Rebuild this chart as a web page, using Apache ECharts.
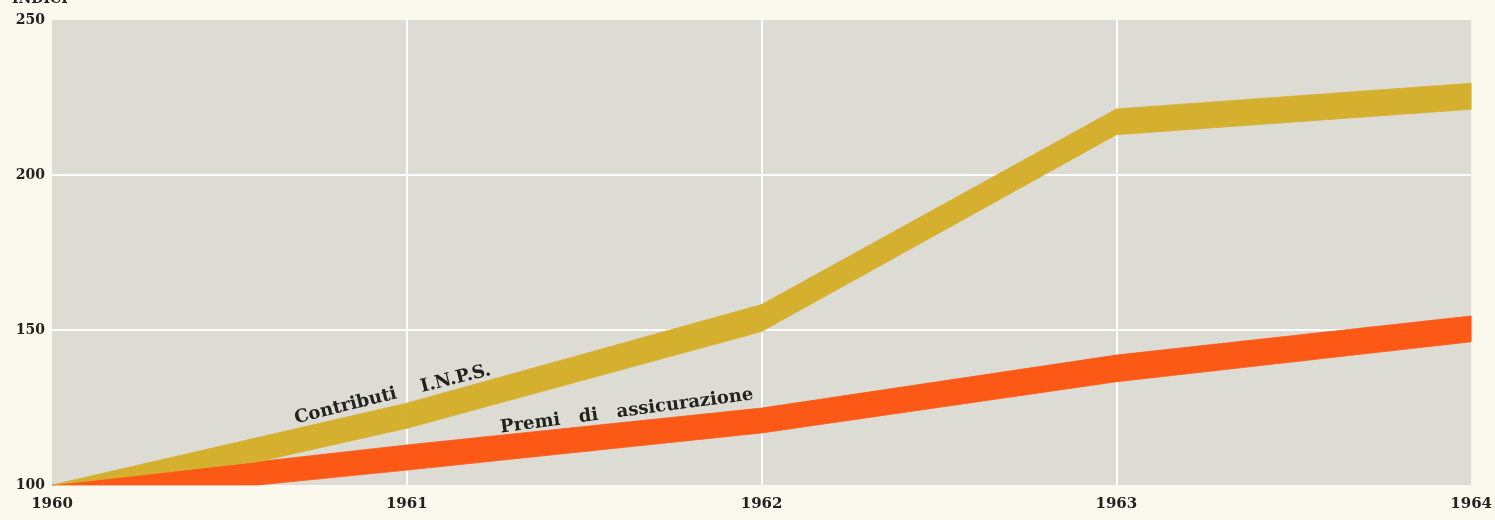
<!DOCTYPE html>
<html>
<head>
<meta charset="utf-8">
<script src="https://cdn.jsdelivr.net/npm/echarts@6/dist/echarts.min.js"></script>
<style>
  html, body { margin: 0; padding: 0; background: #fbf8ee; }
  #chart { width: 1495px; height: 520px; }
</style>
</head>
<body>
<div id="chart"></div>
<script>
// anni (1960.58 = punto dove la banda rossa comincia a salire)
const years = [1960, 1960.58, 1961, 1962, 1963, 1964];
const yTicks = [100, 150, 200, 250];
const xTicks = [1960, 1961, 1962, 1963, 1964];

// bordi inferiore / superiore delle bande
const inpsLow  = [100, 107.5, 118.3, 149.5, 213.0, 221.2];
const inpsHigh = [100, 115.3, 126.4, 158.2, 221.3, 229.6];
const premiLow  = [100, 100.0, 104.8, 116.8, 133.3, 146.2];
const premiHigh = [100, 107.5, 112.9, 124.8, 141.9, 154.5];

// dove stanno le scritte (coordinate dati)
const inpsLabelAt = [1960.96, 129.2];
const premiLabelAt = [1961.62, 123.8];

const serif = '"DejaVu Serif", "Liberation Serif", serif';
const ink = '#24221e';

// un pezzo di banda per ogni tratto fra due anni
const segments = (lo, hi) => {
    const out = [];
    for (let i = 0; i < years.length - 1; i++) {
        out.push([years[i], lo[i], hi[i], years[i + 1], lo[i + 1], hi[i + 1]]);
    }
    return out;
};

const bandSeries = (name, lo, hi, color) => ({
    name: name,
    type: 'custom',
    data: segments(lo, hi),
    encode: { x: [0, 3], y: [1, 2, 4, 5] },
    z: 3,
    silent: true,
    renderItem: (params, api) => {
        const pts = [
            api.coord([api.value(0), api.value(1)]),
            api.coord([api.value(3), api.value(4)]),
            api.coord([api.value(3), api.value(5)]),
            api.coord([api.value(0), api.value(2)]),
        ];
        return {
            type: 'polygon',
            shape: { points: pts },
            style: { fill: color, stroke: color, lineWidth: 0.8 },
        };
    },
});

const labelSeries = (text, at, rotate) => ({
    type: 'scatter',
    data: [at],
    symbolSize: 0,
    z: 5,
    silent: true,
    itemStyle: { opacity: 1 },
    label: {
        show: true,
        position: 'inside',
        rotate: rotate,
        formatter: text,
        color: ink,
        opacity: 1,
        fontFamily: serif,
        fontWeight: 'bold',
        fontSize: 18,
    },
});

const chart = echarts.init(document.getElementById('chart'));

const option = {
    backgroundColor: '#fbf8ee',
    animation: false,
    grid: {
        left: 52,
        right: 18,
        top: 20,
        bottom: 35,
        show: true,
        backgroundColor: '#dcdbd4',
        borderWidth: 0,
    },
    xAxis: {
        type: 'value',
        min: 1960,
        max: 1964,
        interval: 1,
        axisLine: { show: false },
        axisTick: { show: false },
        splitLine: {
            show: true,
            showMinLine: false,
            showMaxLine: false,
            lineStyle: { color: '#ffffff', width: 2 },
        },
        axisLabel: {
            margin: 12,
            color: ink,
            fontFamily: serif,
            fontWeight: 'bold',
            fontSize: 15,
            formatter: (v) => xTicks.includes(v) ? String(v) : '',
        },
    },
    yAxis: {
        type: 'value',
        min: 100,
        max: 250,
        interval: 50,
        axisLine: { show: false },
        axisTick: { show: false },
        splitLine: {
            show: true,
            showMinLine: false,
            showMaxLine: false,
            lineStyle: { color: '#ffffff', width: 2 },
        },
        axisLabel: {
            margin: 7,
            color: ink,
            fontFamily: serif,
            fontWeight: 'bold',
            fontSize: 14,
            formatter: (v) => yTicks.includes(v) ? String(v) : '',
        },
    },
    graphic: [
        {
            type: 'text',
            left: 12,
            top: -8,
            style: {
                text: 'INDICI',
                fill: ink,
                font: 'bold 14px ' + serif,
            },
        },
    ],
    series: [
        bandSeries('Premi di assicurazione', premiLow, premiHigh, '#fc5816'),
        bandSeries('Contributi I.N.P.S.', inpsLow, inpsHigh, '#d5b02e'),
        labelSeries('Contributi    I.N.P.S.', inpsLabelAt, 14),
        labelSeries('Premi   di   assicurazione', premiLabelAt, 7.5),
    ],
};

chart.setOption(option);
</script>
</body>
</html>
